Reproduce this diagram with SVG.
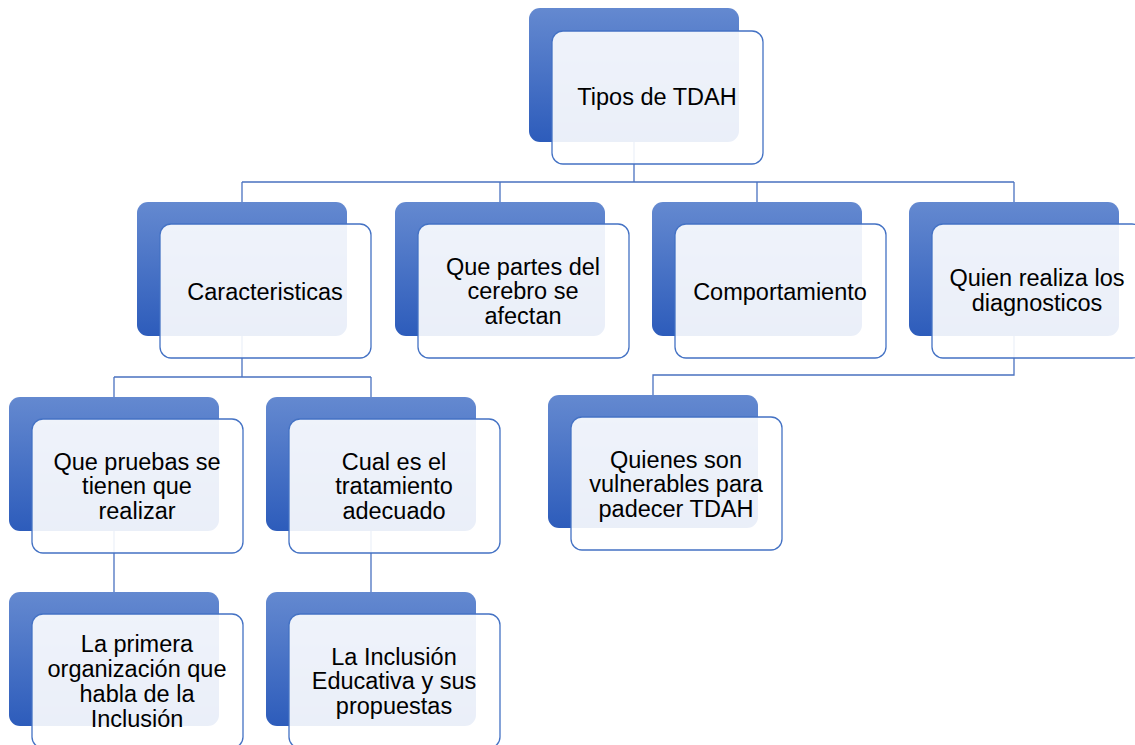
<svg xmlns="http://www.w3.org/2000/svg" width="1135" height="745" viewBox="0 0 1135 745">
  <defs>
    <linearGradient id="bg" x1="0" y1="0" x2="0" y2="1">
      <stop offset="0" stop-color="#6489d0"/>
      <stop offset="1" stop-color="#2d5cbb"/>
    </linearGradient>
    <style>
      .back { fill: url(#bg); }
      .front { fill: #ffffff; fill-opacity: 0.9; stroke: #4472c4; stroke-width: 1.3; }
      .lbl { font-family: "Liberation Sans", Arial, sans-serif; font-size: 23.5px; fill: #000000; text-anchor: middle; }
      .conn { fill: none; stroke: #4a72c0; stroke-width: 1.3; }
    </style>
  </defs>
  <rect width="1135" height="745" fill="#ffffff"/>

  <g id="connectors">
    <path class="conn" d="M634,142 V182 M242,182 H1014 M242,182 V202 M500,182 V202 M757,182 V202 M1014,182 V202"/>
    <path class="conn" d="M242,336 V377 M114,377 H371 M114,377 V397 M371,377 V397"/>
    <path class="conn" d="M1014,336 V375 H653 V396"/>
    <path class="conn" d="M114,531 V592 M371,531 V592"/>
  </g>

  <g id="n0">
    <rect class="back" x="529" y="8" width="210" height="134" rx="11"/>
    <rect class="front" x="552" y="31" width="211" height="133" rx="11"/>
    <text class="lbl" x="657" y="105">Tipos de TDAH</text>
  </g>

  <g id="n1">
    <rect class="back" x="137" y="202" width="210" height="134" rx="11"/>
    <rect class="front" x="160" y="224" width="211" height="134" rx="11"/>
    <text class="lbl" x="265" y="299.5">Caracteristicas</text>
  </g>

  <g id="n2">
    <rect class="back" x="395" y="202" width="210" height="134" rx="11"/>
    <rect class="front" x="418" y="224" width="211" height="134" rx="11"/>
    <text class="lbl" x="523" y="274.6">Que partes del<tspan x="523" y="299.4">cerebro se</tspan><tspan x="523" y="324.2">afectan</tspan></text>
  </g>

  <g id="n3">
    <rect class="back" x="652" y="202" width="210" height="134" rx="11"/>
    <rect class="front" x="675" y="224" width="211" height="134" rx="11"/>
    <text class="lbl" x="780" y="299.5">Comportamiento</text>
  </g>

  <g id="n4">
    <rect class="back" x="909" y="202" width="210" height="134" rx="11"/>
    <rect class="front" x="932" y="224" width="211" height="134" rx="11"/>
    <text class="lbl" x="1037" y="286">Quien realiza los<tspan x="1037" y="310.8">diagnosticos</tspan></text>
  </g>

  <g id="n5">
    <rect class="back" x="9" y="397" width="210" height="134" rx="11"/>
    <rect class="front" x="32" y="419" width="211" height="134" rx="11"/>
    <text class="lbl" x="137" y="469.6">Que pruebas se<tspan x="137" y="494.4">tienen que</tspan><tspan x="137" y="519.2">realizar</tspan></text>
  </g>

  <g id="n6">
    <rect class="back" x="266" y="397" width="210" height="134" rx="11"/>
    <rect class="front" x="289" y="419" width="211" height="134" rx="11"/>
    <text class="lbl" x="394" y="469.6">Cual es el<tspan x="394" y="494.4">tratamiento</tspan><tspan x="394" y="519.2">adecuado</tspan></text>
  </g>

  <g id="n7">
    <rect class="back" x="548" y="395" width="210" height="133" rx="11"/>
    <rect class="front" x="571" y="417" width="211" height="133" rx="11"/>
    <text class="lbl" x="676" y="467.6">Quienes son<tspan x="676" y="492.4">vulnerables para</tspan><tspan x="676" y="517.2">padecer TDAH</tspan></text>
  </g>

  <g id="n8">
    <rect class="back" x="9" y="592" width="210" height="134" rx="11"/>
    <rect class="front" x="32" y="614" width="211" height="134" rx="11"/>
    <text class="lbl" x="137" y="652.2">La primera<tspan x="137" y="677">organización que</tspan><tspan x="137" y="701.8">habla de la</tspan><tspan x="137" y="726.6">Inclusión</tspan></text>
  </g>

  <g id="n9">
    <rect class="back" x="266" y="592" width="210" height="134" rx="11"/>
    <rect class="front" x="289" y="614" width="211" height="134" rx="11"/>
    <text class="lbl" x="394" y="664.6">La Inclusión<tspan x="394" y="689.4">Educativa y sus</tspan><tspan x="394" y="714.2">propuestas</tspan></text>
  </g>
</svg>
